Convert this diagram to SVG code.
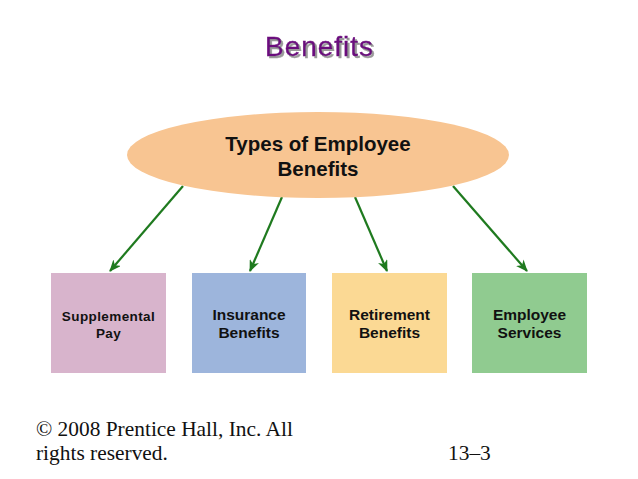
<svg xmlns="http://www.w3.org/2000/svg" width="638" height="479" viewBox="0 0 638 479">
<defs>
<style>
.t{font-family:"Liberation Sans",Arial,sans-serif;font-weight:bold;fill:#111;text-anchor:middle}
.f{font-family:"Liberation Serif","Times New Roman",serif;font-size:21.4px;fill:#111}
.c{stroke:#1F7A1F;stroke-width:2.2;fill:none;marker-end:url(#ah)}
</style>
<filter id="sh" x="-10%" y="-20%" width="130%" height="150%">
<feDropShadow dx="2" dy="2" stdDeviation="0.6" flood-color="#9A9A9A" flood-opacity="1"/>
</filter>
<marker id="ah" viewBox="0 0 12 10" refX="11" refY="5" markerWidth="12" markerHeight="10" markerUnits="userSpaceOnUse" orient="auto">
<path d="M0,0 L12,5 L0,10 L3.5,5 Z" fill="#1F7A1F"/>
</marker>
</defs>
<rect width="638" height="479" fill="#fff"/>
<g id="title">
<text x="319" y="56" font-family="Liberation Sans,Arial,sans-serif" font-size="28" fill="#6B0A7D" stroke="#6B0A7D" stroke-width="0.4" text-anchor="middle" textLength="108" filter="url(#sh)">Benefits</text>
</g>
<g id="connectors">
<line class="c" x1="183" y1="186" x2="110" y2="271"/>
<line class="c" x1="282" y1="197" x2="250" y2="271"/>
<line class="c" x1="355" y1="197" x2="387" y2="271"/>
<line class="c" x1="453" y1="186" x2="527" y2="271"/>
</g>
<g id="root">
<ellipse cx="318" cy="155" rx="191" ry="43" fill="#F8C592"/>
<text class="t" x="318" y="151" font-size="20.5">Types of Employee</text>
<text class="t" x="318" y="176" font-size="20.5">Benefits</text>
</g>
<g id="supplemental">
<rect x="51" y="273" width="115" height="100" fill="#D8B4CC"/>
<text class="t" x="108.5" y="321" font-size="13.5" letter-spacing="0.4">Supplemental</text>
<text class="t" x="108.5" y="338" font-size="13.5" letter-spacing="0.4">Pay</text>
</g>
<g id="insurance">
<rect x="192" y="273" width="114" height="100" fill="#9DB5DC"/>
<text class="t" x="249" y="320" font-size="15.5">Insurance</text>
<text class="t" x="249" y="338" font-size="15.5">Benefits</text>
</g>
<g id="retirement">
<rect x="332" y="273" width="115" height="100" fill="#FBD994"/>
<text class="t" x="389.5" y="320" font-size="15.5">Retirement</text>
<text class="t" x="389.5" y="338" font-size="15.5">Benefits</text>
</g>
<g id="services">
<rect x="472" y="273" width="115" height="100" fill="#90CB90"/>
<text class="t" x="529.5" y="320" font-size="15.5">Employee</text>
<text class="t" x="529.5" y="338" font-size="15.5">Services</text>
</g>
<g id="footer">
<text class="f" x="36" y="436">© 2008 Prentice Hall, Inc. All</text>
<text class="f" x="36" y="460">rights reserved.</text>
<text class="f" x="448" y="460">13–3</text>
</g>
</svg>
